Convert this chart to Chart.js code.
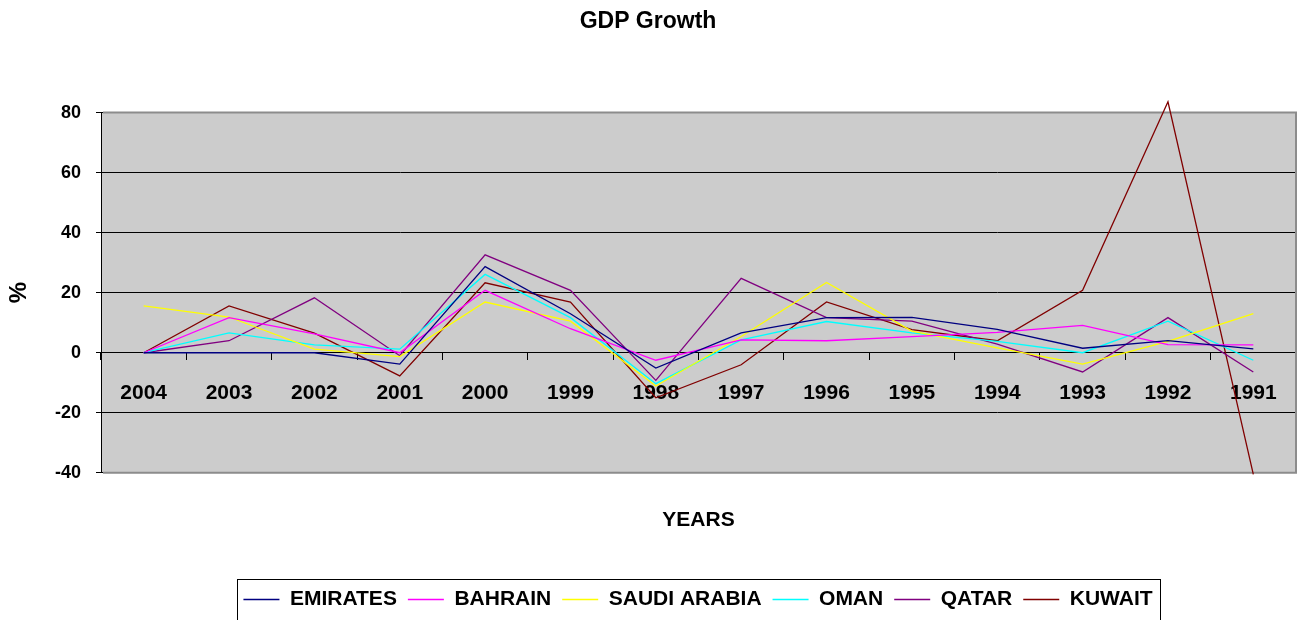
<!DOCTYPE html>
<html>
<head>
  <meta charset="UTF-8">
  <title>GDP Growth</title>
  <style>
    html, body { margin: 0; padding: 0; background: #fff; }
    .chartBox { width: 1300px; height: 620px; }
  </style>
</head>
<body>
<div class="chartBox">
  <canvas id="myChart"></canvas>
</div>

<script src="https://cdn.jsdelivr.net/npm/chart.js@4.4.1/dist/chart.umd.min.js"></script>
<script>
const years = ['2004', '2003', '2002', '2001', '2000', '1999', '1998', '1997', '1996', '1995', '1994', '1993', '1992', '1991'];
const emirates = [0, 0, 0, -3.8, 28.7, 13.0, -5.1, 6.6, 11.7, 11.8, 7.8, 1.5, 4.0, 1.3];
const bahrain = [0, 11.7, 6.3, 0, 20.8, 8.0, -2.5, 4.3, 4.0, 5.4, 6.8, 9.1, 2.7, 2.6];
const saudi = [15.6, 11.9, 1.2, -1.3, 16.9, 10.5, -11.1, 5.4, 23.4, 7.2, 1.6, -3.8, 3.8, 13.0];
const oman = [0, 6.6, 2.6, 1.2, 26.1, 11.7, -10.3, 4.3, 10.4, 6.6, 3.8, 0, 10.5, -2.5];
const qatar = [0, 4.0, 18.3, -1.0, 32.6, 20.8, -9.2, 24.8, 11.7, 10.5, 2.9, -6.4, 11.7, -6.4];
const kuwait = [0, 15.6, 6.5, -7.7, 23.3, 16.9, -15.0, -4.0, 16.9, 7.7, 4.0, 20.8, 83.6, -40.5];
const yTicks = [80, 60, 40, 20, 0, -20, -40];

const FONT = "'Liberation Sans', Arial, sans-serif";
Chart.defaults.font.family = FONT;
Chart.defaults.color = '#000';

function line(label, data, color) {
  return {
    label: label,
    data: data,
    borderColor: color,
    backgroundColor: color,
    borderWidth: 1.3,
    pointRadius: 0,
    tension: 0,
    clip: false
  };
}

// grey plot area + frame, like the old excel charts
const plotArea = {
  id: 'plotArea',
  beforeDraw(chart) {
    const {ctx, chartArea: a} = chart;
    ctx.save();
    ctx.fillStyle = '#cccccc';
    ctx.fillRect(a.left, a.top, a.right - a.left, a.bottom - a.top);
    ctx.restore();
  },
  beforeDatasetsDraw(chart) {
    const {ctx, chartArea: a} = chart;
    ctx.save();
    ctx.strokeStyle = '#8c8c8c';
    ctx.lineWidth = 2;
    ctx.beginPath();
    ctx.moveTo(a.left + 2, a.top);
    ctx.lineTo(a.right, a.top);
    ctx.lineTo(a.right, a.bottom);
    ctx.lineTo(a.left + 2, a.bottom);
    ctx.stroke();
    ctx.restore();
  }
};

// move the legend a bit right and put a box round it
const legendBox = {
  id: 'legendBox',
  afterLayout(chart) {
    chart.legend.left += 50;
    chart.legend.right += 50;
  },
  afterDraw(chart) {
    const boxes = chart.legend.legendHitBoxes;
    if (!boxes || !boxes.length) return;
    const first = boxes[0];
    const last = boxes[boxes.length - 1];
    const {ctx} = chart;
    ctx.save();
    ctx.strokeStyle = '#000';
    ctx.lineWidth = 1;
    ctx.strokeRect(Math.round(first.left - 6) + 0.5, Math.round(first.top - 10) + 0.5,
      Math.round(last.left + last.width - first.left + 14), 60);
    ctx.restore();
  }
};

const ctx = document.getElementById('myChart').getContext('2d');
const myChart = new Chart(ctx, {
  type: 'line',
  data: {
    labels: years,
    datasets: [
      line('EMIRATES', emirates, '#000080'),
      line('BAHRAIN', bahrain, '#ff00ff'),
      line('SAUDI ARABIA', saudi, '#ffff00'),
      line('OMAN', oman, '#00ffff'),
      line('QATAR', qatar, '#800080'),
      line('KUWAIT', kuwait, '#800000')
    ]
  },
  options: {
    responsive: true,
    maintainAspectRatio: false,
    animation: false,
    layout: {
      padding: {left: 0, right: 4, top: 0, bottom: 0}
    },
    scales: {
      x: {
        position: {y: 0},
        offset: true,
        grid: {
          offset: true,
          drawOnChartArea: false,
          drawTicks: true,
          tickLength: 7,
          color: '#000'
        },
        border: {display: true, color: '#000', width: 1},
        ticks: {
          padding: 21,
          maxRotation: 0,
          autoSkip: false,
          font: {size: 21, weight: 'bold'}
        }
      },
      x2: {
        position: 'bottom',
        offset: true,
        grid: {display: false, drawTicks: false},
        border: {display: false},
        ticks: {display: false},
        title: {
          display: true,
          text: 'YEARS',
          padding: {top: 35, bottom: 45},
          font: {size: 21, weight: 'bold'}
        }
      },
      y: {
        min: -40,
        max: 80,
        afterBuildTicks: (scale) => {
          scale.ticks = yTicks.map(v => ({value: v}));
        },
        afterFit: (scale) => {
          scale.width = 101;
        },
        grid: {
          color: '#000',
          tickLength: 5,
          lineWidth: 1
        },
        border: {display: true, color: '#000', width: 1},
        ticks: {
          padding: 15,
          font: {size: 18, weight: 'bold'}
        },
        title: {
          display: true,
          text: '%',
          padding: {top: 5, bottom: 0},
          font: {size: 24, weight: 'bold'}
        }
      }
    },
    plugins: {
      title: {
        display: true,
        text: 'GDP Growth',
        padding: {top: 8, bottom: 77},
        font: {size: 23, weight: 'bold'}
      },
      legend: {
        position: 'bottom',
        labels: {
          usePointStyle: true,
          pointStyle: 'line',
          pointStyleWidth: 36,
          padding: 11,
          font: {size: 21, weight: 'bold'}
        }
      },
      tooltip: {enabled: false}
    }
  },
  plugins: [plotArea, legendBox]
});
</script>
</body>
</html>
